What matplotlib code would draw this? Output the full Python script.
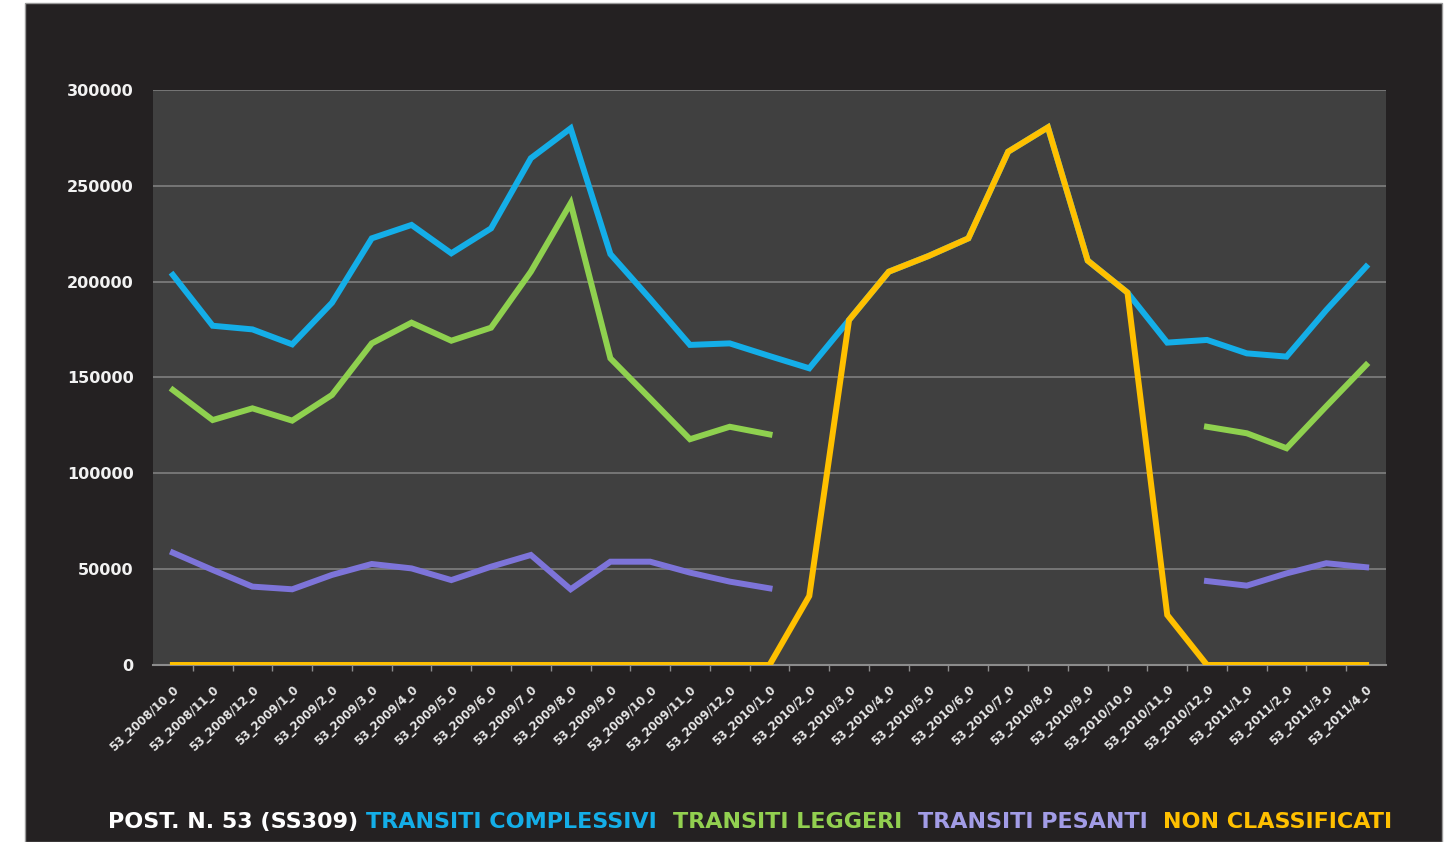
import numpy as np
import matplotlib
matplotlib.use("Agg")
from matplotlib import pyplot as plt
from matplotlib.patches import Rectangle

nan = np.nan

months = ["2008/10", "2008/11", "2008/12",
          "2009/1", "2009/2", "2009/3", "2009/4", "2009/5", "2009/6",
          "2009/7", "2009/8", "2009/9", "2009/10", "2009/11", "2009/12",
          "2010/1", "2010/2", "2010/3", "2010/4", "2010/5", "2010/6",
          "2010/7", "2010/8", "2010/9", "2010/10", "2010/11", "2010/12",
          "2011/1", "2011/2", "2011/3", "2011/4"]
labels = [f"53_{m}_0" for m in months]

complessivi = [203500, 177000, 175100, 167300, 189000, 222600, 229600, 214800,
               227800, 264400, 280000, 214400, 191000, 167000, 167800, 161200,
               154800, 180000, 205200, 213400, 222600, 267800, 280500, 211000,
               194300, 168200, 169600, 162600, 160900, 185200, 207800]
leggeri = [143500, 127800, 133900, 127500, 140900, 167800, 178600, 169200,
           176000, 205200, 240900, 160000, 139000, 117800, 124300, 120300,
           nan, nan, nan, nan, nan, nan, nan, nan, nan, nan,
           124300, 120900, 113100, 135000, 156500]
pesanti = [58600, 49600, 40900, 39500, 47000, 52700, 50400, 44300,
           51300, 57400, 39500, 53900, 53900, 48200, 43500, 40000,
           nan, nan, nan, nan, nan, nan, nan, nan, nan, nan,
           43800, 41400, 47800, 53100, 51000]
non_classificati = [0, 0, 0, 0, 0, 0, 0, 0, 0, 0, 0, 0, 0, 0, 0, 0,
                    36000, 180000, 205200, 213400, 222600, 267800, 280500,
                    211000, 194300, 26100, 0, 0, 0, 0, 0]

BLUE = "#14aee8"
GREEN = "#8fd14f"
PURPLE = "#7d74d9"
YELLOW = "#ffc000"

W, H = 1452, 842
fig = plt.figure(figsize=(W / 100, H / 100), dpi=100)
fig.patch.set_facecolor("white")

# dark slide panel behind the chart
fig.add_artist(Rectangle((25 / W, 0), (1442 - 25) / W, (842 - 3) / H,
                         transform=fig.transFigure, facecolor="#242122",
                         edgecolor="#9a9a9a", linewidth=1, zorder=0))

ax = fig.add_axes([153 / W, 1 - 665 / H, (1386 - 153) / W, 575 / H])
ax.set_facecolor("#404040")

x = np.arange(len(labels))
lw = 4.3
ax.plot(x, complessivi, color=BLUE, lw=lw, solid_joinstyle="miter", zorder=3)
ax.plot(x, leggeri, color=GREEN, lw=lw, solid_joinstyle="miter", zorder=3)
ax.plot(x, pesanti, color=PURPLE, lw=lw, solid_joinstyle="miter", zorder=3)
ax.plot(x, non_classificati, color=YELLOW, lw=lw, solid_joinstyle="miter", zorder=4)

ax.set_xlim(-0.5, len(labels) - 0.5)
ax.set_ylim(0, 300000)
ax.set_yticks(np.arange(0, 300001, 50000))
ax.yaxis.grid(True, color="#767676", lw=1.4)
ax.set_axisbelow(True)

for side in ["left", "right", "top"]:
    ax.spines[side].set_visible(False)
ax.spines["bottom"].set_color("#8c8c8c")
ax.spines["bottom"].set_linewidth(1.5)

ax.tick_params(axis="y", length=0, pad=14, labelsize=11.5, labelcolor="#f2f2f2")
for t in ax.get_yticklabels():
    t.set_fontweight("bold")

ax.set_xticks(x)
ax.set_xticks(x[:-1] + 0.5, minor=True)
ax.set_xticklabels(labels, rotation=43, ha="right", va="top",
                   rotation_mode="anchor", fontsize=8.5, fontweight="bold",
                   color="#e6e6e6")
ax.tick_params(axis="x", which="major", length=0, pad=13)
ax.tick_params(axis="x", which="minor", length=4, width=1, color="#8c8c8c",
               direction="out")

# coloured caption along the bottom
parts = [("POST. N. 53 (SS309) ", "#ffffff"),
         ("TRANSITI COMPLESSIVI  ", BLUE),
         ("TRANSITI LEGGERI  ", "#92d050"),
         ("TRANSITI PESANTI  ", "#a29ce6"),
         ("NON CLASSIFICATI", YELLOW)]
family = ["Liberation Sans Narrow", "DejaVu Sans"]
renderer = fig.canvas.get_renderer()
trial = 20
widths = []
for s, c in parts:
    t = fig.text(0, 0, s, fontsize=trial, fontweight="bold", family=family)
    widths.append(t.get_window_extent(renderer).width)
    t.remove()
size = trial * (1392 - 108) / sum(widths)
xpos = 108
for (s, c), w in zip(parts, widths):
    fig.text(xpos / W, 1 - 822 / H, s, fontsize=size, fontweight="bold",
             family=family, color=c, ha="left", va="center")
    xpos += w * size / trial

fig.savefig("out.png", dpi=100, facecolor=fig.get_facecolor())
